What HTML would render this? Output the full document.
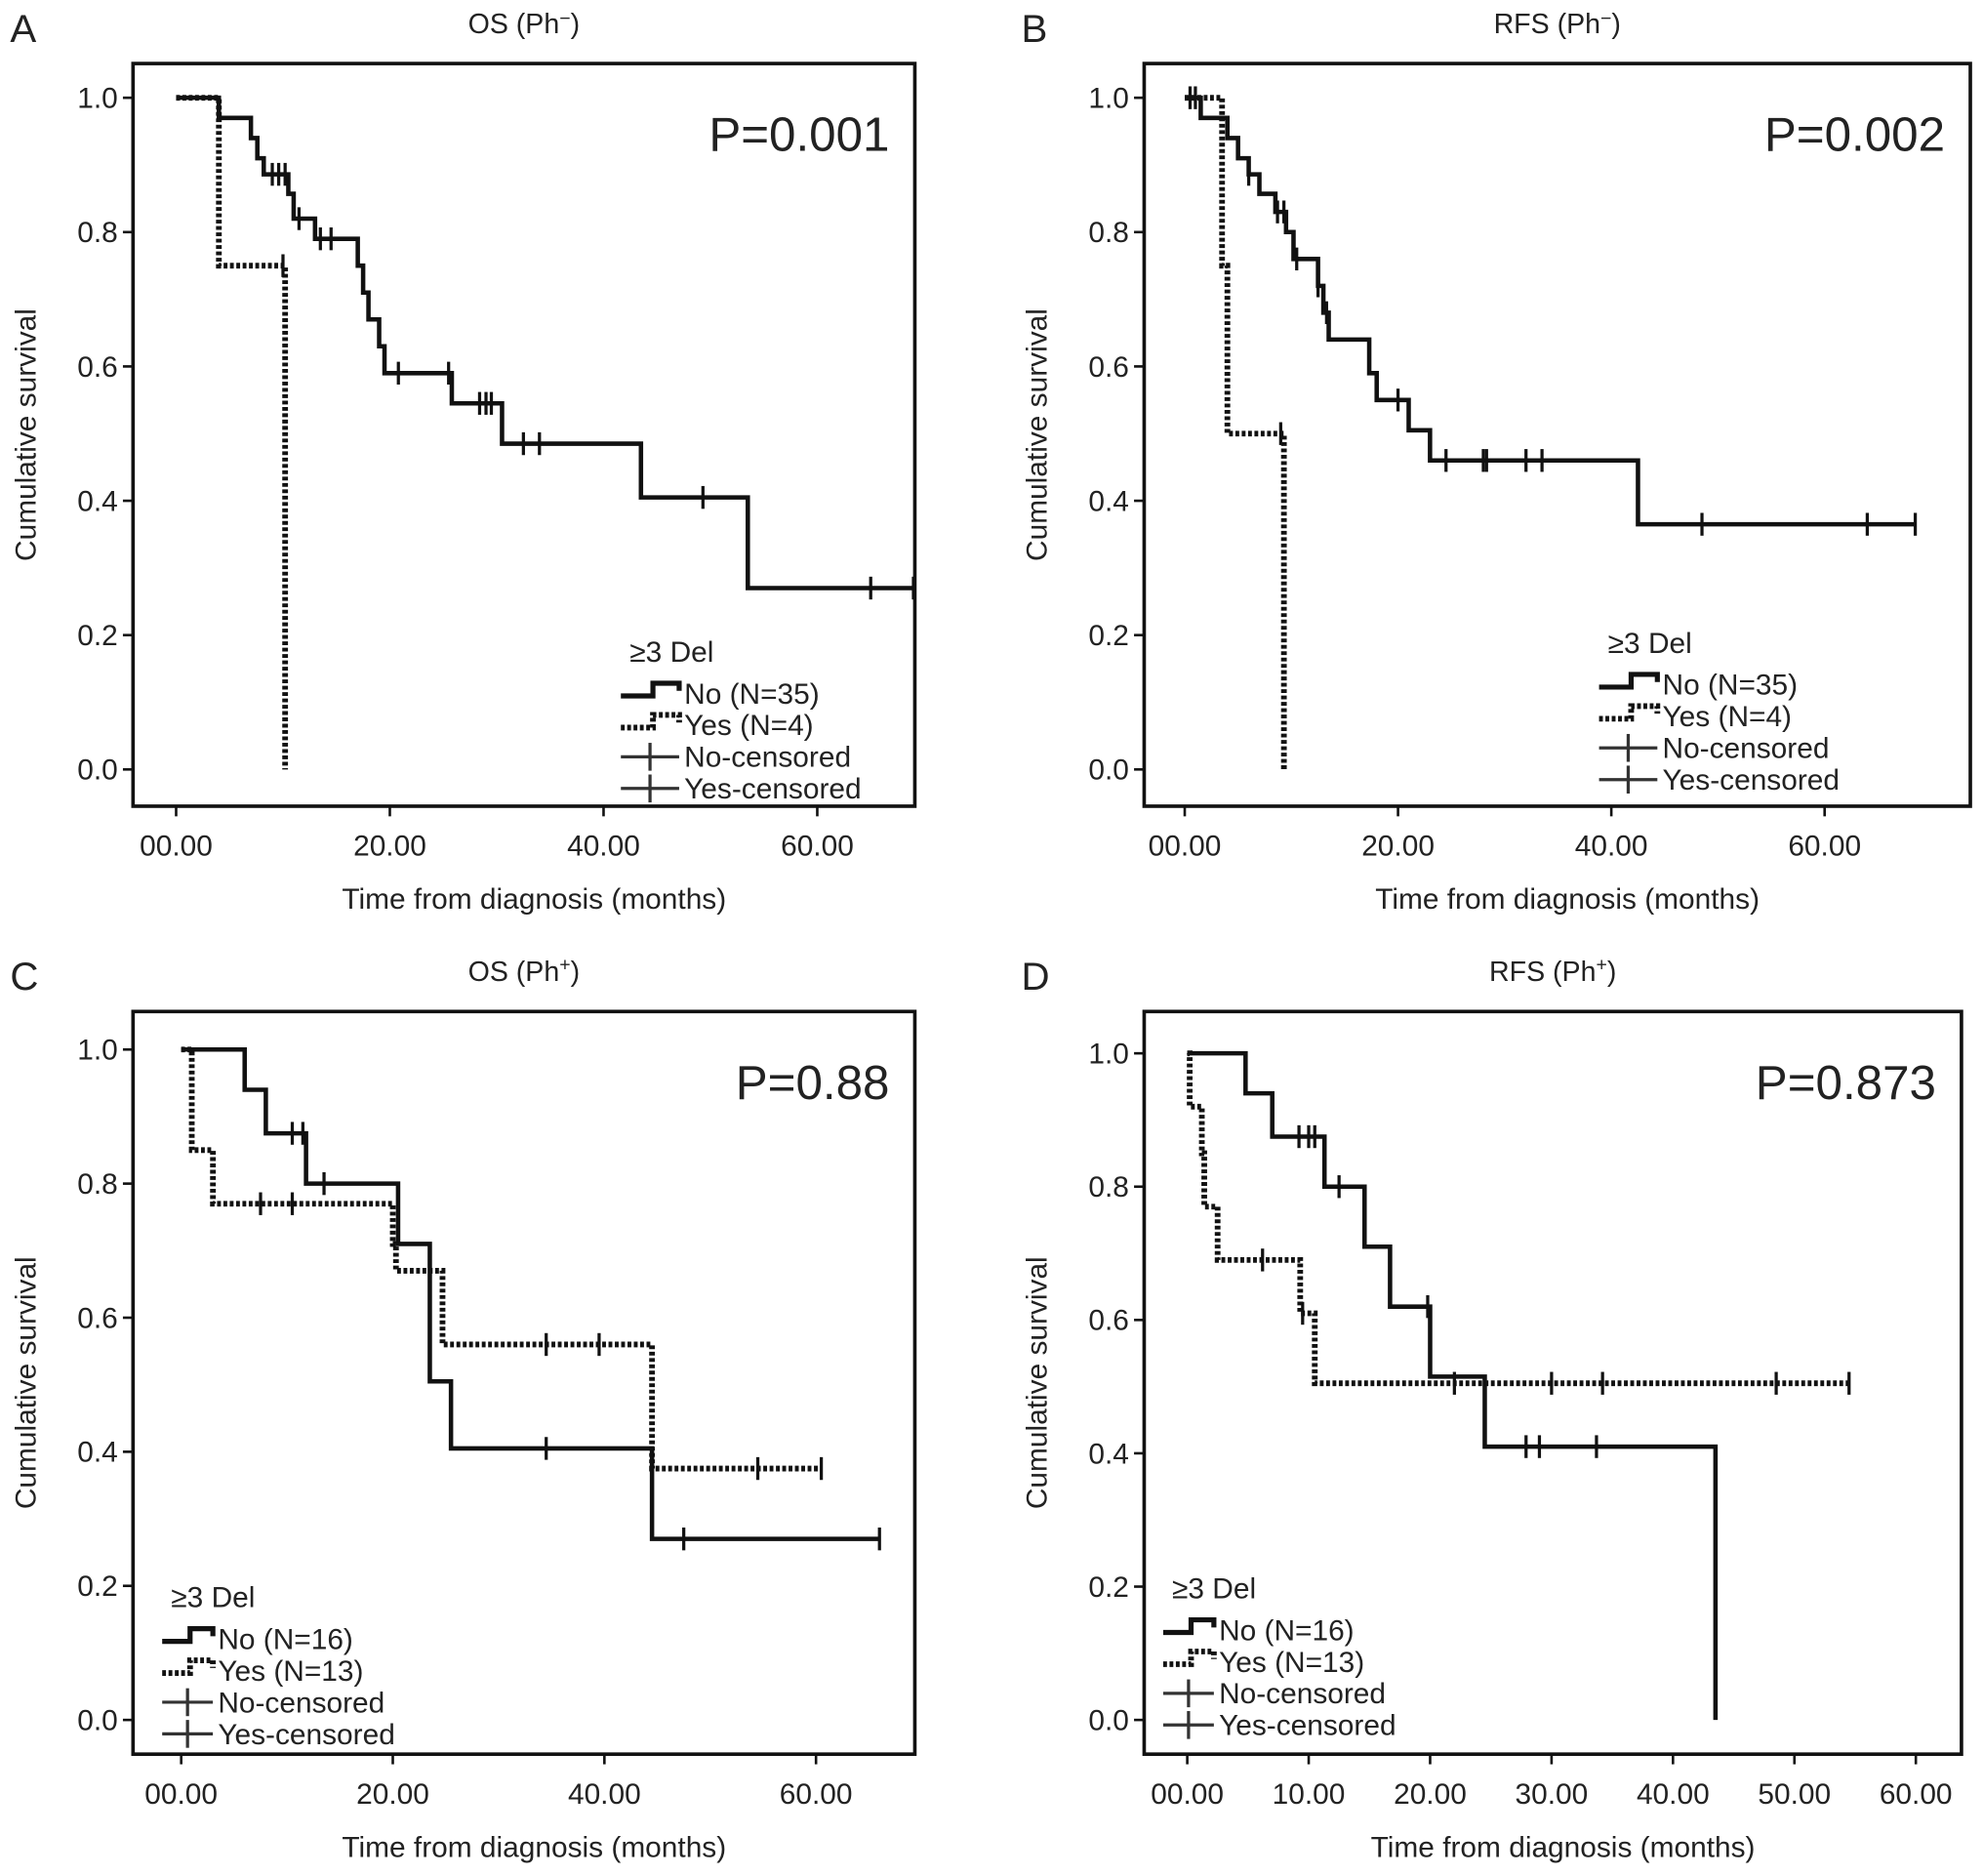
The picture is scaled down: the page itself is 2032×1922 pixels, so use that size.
<!DOCTYPE html>
<html><head><meta charset="utf-8"><style>
html,body{margin:0;padding:0;background:#fff}
svg{display:block}
text{font-family:"Liberation Sans",Arial,sans-serif;fill:#222}
</style></head><body>
<svg id="fig" width="2032" height="1922" viewBox="0 0 1565 1480" xmlns="http://www.w3.org/2000/svg"></svg>
<script>
// ---- Data arrays (months, cumulative survival) ----
const aNoT=[4,7,7.6,8.2,10.5,11,13,17,17.5,18,19,19.5,25.8,30.5,43.5,53.5];
const aNoS=[0.97,0.94,0.91,0.886,0.857,0.82,0.79,0.75,0.71,0.67,0.63,0.59,0.545,0.485,0.405,0.27];
const aNoC=[9,9.6,10.2,11.5,13.5,14.5,20.8,25.5,28.4,29,29.5,32.5,34,49.3,65,69];
const aNoEnd=69;
const aYesT=[4,10.2];
const aYesS=[0.75,0];
const aYesC=[10];
const aYesEnd=10.2;

const bNoT=[1.5,4,5,6,7,8.5,9.5,10.2,12.5,13,13.5,17.3,18,21,23];
const bNoS=[0.97,0.94,0.91,0.886,0.857,0.83,0.80,0.76,0.72,0.68,0.64,0.59,0.55,0.505,0.46];
const bNoC=[0.5,1,6,8.7,9.3,10.5,12.5,13.3,20,24.5,28,28.3,32,33.5,48.5,64,68.5];
const bNoEnd=68.5;
const bNoT2=[42.5];
const bNoS2=[0.365];
const bYesT=[3.5,4,9.3];
const bYesS=[0.75,0.5,0];
const bYesC=[9];
const bYesEnd=9.3;

const cNoT=[6,8,11.8,20.5,23.5,25.5,44.5];
const cNoS=[0.94,0.875,0.80,0.71,0.505,0.405,0.27];
const cNoC=[10.5,11.5,13.5,34.5,47.5,66];
const cNoEnd=66;
const cYesT=[1,3,20,20.3,24.7,44.5];
const cYesS=[0.85,0.77,0.71,0.67,0.56,0.375];
const cYesC=[7.5,10.5,23.5,34.5,39.5,54.5,60.5];
const cYesEnd=60.5;

const dNoT=[4.8,7,11.3,14.6,16.7,20,24.5,43.5];
const dNoS=[0.94,0.875,0.80,0.71,0.62,0.515,0.41,0];
const dNoC=[9.2,10,10.5,12.5,19.8,27.9,29,33.7];
const dNoEnd=43.5;
const dYesT=[0.2,1.2,1.4,2.5,9.3,10.5];
const dYesS=[0.92,0.85,0.77,0.69,0.61,0.505];
const dYesC=[6.2,9.5,22,30,34.2,48.5,54.5];
const dYesEnd=54.5;

const yTicks=[0,0.2,0.4,0.6,0.8,1.0];
const xTicksABC=[0,20,40,60];
const xTicksD=[0,10,20,30,40,50,60];

const NS="http://www.w3.org/2000/svg";
const svg=document.getElementById('fig');
function mk(tag,attrs,parent){const e=document.createElementNS(NS,tag);for(const k in attrs)e.setAttribute(k,attrs[k]);(parent||svg).appendChild(e);return e;}
function txt(s,x,y,size,anchor,parent){const t=mk('text',{x:x,y:y,'font-size':size,'text-anchor':anchor||'start'},parent);t.textContent=s;return t;}

function panel(cfg){
  const g=mk('g',{});
  
  
  const X=v=>cfg.x0+(v/60)*(cfg.x60-cfg.x0);
  const Y=v=>cfg.y0+(cfg.y1-cfg.y0)*v;
  const frame=mk('rect',{x:cfg.L,y:cfg.T,width:cfg.R-cfg.L,height:cfg.B-cfg.T,fill:'none',stroke:'#111','stroke-width':2.8},g);
  
  
  const pl=txt(cfg.id,cfg.L-97,cfg.T-17,31,'start',g);
  
  
  const ti=txt('',(cfg.L+cfg.R)/2,cfg.T-24,22,'middle',g);
  
  
  ti.innerHTML=cfg.title;
  yTicks.forEach(v=>{
    mk('line',{x1:cfg.L-8,x2:cfg.L,y1:Y(v),y2:Y(v),stroke:'#111','stroke-width':2},g);
    const t=txt(v.toFixed(1),cfg.L-12,Y(v)+8,23,'end',g);
    
    
  });
  cfg.xt.forEach(v=>{
    mk('line',{x1:X(v),x2:X(v),y1:cfg.B,y2:cfg.B+8,stroke:'#111','stroke-width':2},g);
    const t=txt((v<10?'0':'')+v.toFixed(2),X(v),cfg.B+39,23,'middle',g);
    
    
  });
  const yl=txt('Cumulative survival',0,0,23,'middle',g);
  yl.setAttribute('transform','translate('+(cfg.L-77)+','+((cfg.T+cfg.B)/2)+') rotate(-90)');
  
  
  const xl=txt('Time from diagnosis (months)',(cfg.L+cfg.R)/2+8,cfg.B+81,23,'middle',g);
  
  
  const pv=txt(cfg.p,cfg.R-20,cfg.T+69,38,'end',g);
  
  

  cfg.series.forEach(s=>{
    const steps=[];s.T.forEach((t,i)=>steps.push([t,s.S[i]]));
    let d='M'+X(0)+' '+Y(1);
    steps.forEach(([t,v])=>{d+=' H'+X(t)+' V'+Y(v);});
    if(s.end>steps[steps.length-1][0]) d+=' H'+X(s.end);
    const p=mk('path',{d:d,fill:'none',stroke:'#111','stroke-width':s.dot?4.5:3.5,'stroke-dasharray':s.dot?'3 2':'none'},g);
    
    
    s.C.forEach(c=>{
      let v=1;steps.forEach(([t,sv])=>{if(t<=c)v=sv;});
      const m=mk('line',{x1:X(c),x2:X(c),y1:Y(v)-9,y2:Y(v)+9,stroke:'#111','stroke-width':2.5},g);
      
      
    });
  });

  const lg=mk('g',{},g);
  
  
  const lx=cfg.lx, ly=cfg.ly, tx=cfg.ltx;
  txt('\u22653  Del',lx+7,ly,23,'start',lg);
  const rows=[cfg.n1,cfg.n2,'No-censored','Yes-censored'];
  rows.forEach((r,i)=>{
    const yy=ly+cfg.lg*(i+1);
    const t=txt(r,tx,yy+8,23,'start',lg);
    
    
    const sx=lx, ex=tx-4;
    if(i<2){
      mk('path',{d:'M'+sx+' '+(yy+2)+' H'+(sx+(ex-sx)*0.55)+' V'+(yy-8)+' H'+ex+' V'+(yy-2),fill:'none',stroke:'#111','stroke-width':i==1?4.5:4,'stroke-dasharray':i==1?'3 2':'none'},lg);
    } else {
      mk('line',{x1:sx,x2:ex,y1:yy,y2:yy,stroke:'#333','stroke-width':2.5},lg);
      mk('line',{x1:(sx+ex)/2,x2:(sx+ex)/2,y1:yy-11,y2:yy+11,stroke:'#333','stroke-width':2.5},lg);
    }
  });
}

panel({id:'A',title:'OS (Ph<tspan font-size="15" dy="-7">\u2212</tspan><tspan dy="7">)</tspan>',L:105,T:50,R:722,B:636,x0:139,x60:645,y1:77,y0:607,xt:xTicksABC,p:'P=0.001',
  series:[{name:'curve-no',T:aNoT,S:aNoS,C:aNoC,end:aNoEnd},{name:'curve-yes',T:aYesT,S:aYesS,C:aYesC,end:aYesEnd,dot:true}],
  lx:490,ly:522,lg:25,ltx:540,n1:'No (N=35)',n2:'Yes (N=4)'});
panel({id:'B',title:'RFS (Ph<tspan font-size="15" dy="-7">\u2212</tspan><tspan dy="7">)</tspan>',L:903,T:50,R:1555,B:636,x0:935,x60:1440,y1:77,y0:607,xt:xTicksABC,p:'P=0.002',
  series:[{name:'curve-no',T:bNoT.concat(bNoT2),S:bNoS.concat(bNoS2),C:bNoC,end:bNoEnd},{name:'curve-yes',T:bYesT,S:bYesS,C:bYesC,end:bYesEnd,dot:true}],
  lx:1262,ly:515,lg:25,ltx:1312,n1:'No (N=35)',n2:'Yes (N=4)'});
panel({id:'C',title:'OS (Ph<tspan font-size="15" dy="-8">+</tspan><tspan dy="8">)</tspan>',L:105,T:798,R:722,B:1384,x0:143,x60:644,y1:828,y0:1357,xt:xTicksABC,p:'P=0.88',
  series:[{name:'curve-no',T:cNoT,S:cNoS,C:cNoC,end:cNoEnd},{name:'curve-yes',T:cYesT,S:cYesS,C:cYesC,end:cYesEnd,dot:true}],
  lx:128,ly:1268,lg:25,ltx:172,n1:'No (N=16)',n2:'Yes (N=13)'});
panel({id:'D',title:'RFS (Ph<tspan font-size="15" dy="-8">+</tspan><tspan dy="8">)</tspan>',L:903,T:798,R:1548,B:1384,x0:937,x60:1512,y1:831,y0:1357,xt:xTicksD,p:'P=0.873',
  series:[{name:'curve-no',T:dNoT,S:dNoS,C:dNoC,end:dNoEnd},{name:'curve-yes',T:dYesT,S:dYesS,C:dYesC,end:dYesEnd,dot:true}],
  lx:918,ly:1261,lg:25,ltx:962,n1:'No (N=16)',n2:'Yes (N=13)'});
</script>
</body></html>
